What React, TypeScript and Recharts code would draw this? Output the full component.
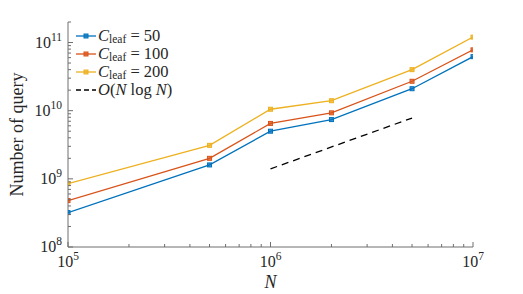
import { LineChart, Line, XAxis, YAxis, Legend, Label } from "recharts";

const nValues = [1e5, 5e5, 1e6, 2e6, 5e6, 1e7];
const leaf50 = [3.2e8, 1.6e9, 5.0e9, 7.4e9, 2.1e10, 6.2e10];
const leaf100 = [4.8e8, 2.0e9, 6.5e9, 9.3e9, 2.7e10, 7.8e10];
const leaf200 = [8.5e8, 3.1e9, 1.05e10, 1.4e10, 4.0e10, 1.2e11];
// reference slope, only drawn between 1e6 and 5e6
const nLogN = [null, null, 1.4e9, null, 7.8e9, null];

const leafSizes = [50, 100, 200];
const seriesOrder = ["leaf50", "leaf100", "leaf200", "ref"];

const xMajorTicks = [1e5, 1e6, 1e7];
const xMinorTicks = [
    2e5, 3e5, 4e5, 5e5, 6e5, 7e5, 8e5, 9e5,
    2e6, 3e6, 4e6, 5e6, 6e6, 7e6, 8e6, 9e6,
];
const yMajorTicks = [1e8, 1e9, 1e10, 1e11];
const yMinorTicks = [
    2e8, 3e8, 4e8, 5e8, 6e8, 7e8, 8e8, 9e8,
    2e9, 3e9, 4e9, 5e9, 6e9, 7e9, 8e9, 9e9,
    2e10, 3e10, 4e10, 5e10, 6e10, 7e10, 8e10, 9e10,
    2e11,
];

const xTicks = [...xMajorTicks, ...xMinorTicks].sort((a, b) => a - b);
const yTicks = [...yMajorTicks, ...yMinorTicks].sort((a, b) => a - b);

const rows = nValues.map((n, i) => ({
    n,
    leaf50: leaf50[i],
    leaf100: leaf100[i],
    leaf200: leaf200[i],
    ref: nLogN[i],
}));

const FONT = "'Liberation Serif', 'DejaVu Serif', serif";
const AXIS = "#6e6e6e";
const TEXT = "#262626";
const colors = { leaf50: "#0072BD", leaf100: "#D95319", leaf200: "#EDB120", ref: "#000000" };

const exponent = (v: number) => Math.round(Math.log10(v));

const PowerLabel = ({ x, y, v, anchor }: { x: number; y: number; v: number; anchor: "middle" | "end" }) => (
    <text x={x} y={y} textAnchor={anchor} fill={TEXT} fontFamily={FONT} fontSize={16}>
        <tspan>10</tspan>
        <tspan dy={-7} fontSize={11.5}>{exponent(v)}</tspan>
    </text>
);

const XTick = (props: any) => {
    const { x, y, payload, side } = props;
    const major = xMajorTicks.includes(payload.value);
    const len = major ? 5 : 3;
    const dir = side === "top" ? 1 : -1;
    return (
        <g>
            <line x1={x} y1={y} x2={x} y2={y + dir * len} stroke={AXIS} strokeWidth={1} />
            {side === "bottom" && major && <PowerLabel x={x} y={y + 20} v={payload.value} anchor="middle" />}
        </g>
    );
};

const YTick = (props: any) => {
    const { x, y, payload, side } = props;
    const major = yMajorTicks.includes(payload.value);
    const len = major ? 5 : 3;
    const dir = side === "left" ? 1 : -1;
    return (
        <g>
            <line x1={x} y1={y} x2={x + dir * len} y2={y} stroke={AXIS} strokeWidth={1} />
            {side === "left" && major && <PowerLabel x={x - 6} y={y + 5} v={payload.value} anchor="end" />}
        </g>
    );
};

const squareDot = (color: string) => (props: any) => {
    const { cx, cy, index, dataKey } = props;
    if (cx == null || cy == null) return <g key={`${dataKey}-${index}`} />;
    return (
        <rect key={`${dataKey}-${index}`} x={cx - 2} y={cy - 2} width={4} height={4}
            fill={color} fillOpacity={0.75} stroke={color} strokeWidth={1} />
    );
};

const legendText = (key: string) => {
    if (key === "ref") {
        return <span><i>O</i>(<i>N</i> log <i>N</i>)</span>;
    }
    const size = leafSizes[seriesOrder.indexOf(key)];
    return (
        <span>
            <i>C</i>
            <span style={{ fontSize: 11.5, position: "relative", top: 2, lineHeight: 1 }}>leaf</span>
            {` = ${size}`}
        </span>
    );
};

const LegendBox = (props: any) => {
    const entries = [...(props.payload ?? [])].sort(
        (a: any, b: any) => seriesOrder.indexOf(String(a.dataKey)) - seriesOrder.indexOf(String(b.dataKey))
    );
    return (
        <div style={{ fontFamily: FONT, fontSize: 16.5, color: TEXT, background: "#fff" }}>
            {entries.map((entry: any) => {
                const key = String(entry.dataKey);
                const dashed = key === "ref";
                return (
                    <div key={key} style={{ display: "flex", alignItems: "center", height: 18, lineHeight: "18px", whiteSpace: "pre" }}>
                        <svg width={22} height={18} style={{ marginRight: 1 }}>
                            <line x1={1} y1={9} x2={21} y2={9} stroke={entry.color}
                                strokeWidth={1.3} strokeDasharray={dashed ? "5 3" : undefined} />
                            {!dashed && (
                                <rect x={9} y={7} width={4} height={4} fill={entry.color}
                                    fillOpacity={0.75} stroke={entry.color} />
                            )}
                        </svg>
                        {legendText(key)}
                    </div>
                );
            })}
        </div>
    );
};

export default function App() {
    return (
        <div style={{ position: "absolute", left: 0, top: 0, background: "#fff" }}>
            <LineChart width={523} height={294} data={rows}
                margin={{ top: 22, right: 50, left: 0, bottom: 0 }}>
                <XAxis dataKey="n" type="number" scale="log" domain={[1e5, 1e7]} allowDataOverflow
                    ticks={xTicks} interval={0} height={47} tickSize={0} tickMargin={0}
                    tickLine={false} stroke={AXIS} tick={<XTick side="bottom" />}>
                    <Label value="N" position="insideBottom" offset={6}
                        style={{ fontFamily: FONT, fontStyle: "italic", fontSize: 18, fill: TEXT }} />
                </XAxis>
                <XAxis xAxisId="top" orientation="top" dataKey="n" type="number" scale="log"
                    domain={[1e5, 1e7]} allowDataOverflow ticks={xTicks} interval={0} height={0}
                    tickSize={0} tickMargin={0} tickLine={false} stroke={AXIS} tick={<XTick side="top" />} />
                <YAxis type="number" scale="log" domain={[1e8, 2e11]} allowDataOverflow
                    ticks={yTicks} interval={0} width={68} tickSize={0} tickMargin={0}
                    tickLine={false} stroke={AXIS} tick={<YTick side="left" />}>
                    <Label value="Number of query" angle={-90} position="insideLeft" offset={17}
                        style={{ fontFamily: FONT, fontSize: 18, fill: TEXT, textAnchor: "middle" }} />
                </YAxis>
                <YAxis yAxisId="right" orientation="right" type="number" scale="log"
                    domain={[1e8, 2e11]} allowDataOverflow ticks={yTicks} interval={0} width={0}
                    tickSize={0} tickMargin={0} tickLine={false} stroke={AXIS} tick={<YTick side="right" />} />
                <Legend layout="vertical" align="center" verticalAlign="middle" content={<LegendBox />}
                    wrapperStyle={{ left: 75, top: 27, width: "auto" }} />
                <Line dataKey="leaf50" name="leaf50" stroke={colors.leaf50} strokeWidth={1.3}
                    dot={squareDot(colors.leaf50)} isAnimationActive={false} />
                <Line dataKey="leaf100" name="leaf100" stroke={colors.leaf100} strokeWidth={1.3}
                    dot={squareDot(colors.leaf100)} isAnimationActive={false} />
                <Line dataKey="leaf200" name="leaf200" stroke={colors.leaf200} strokeWidth={1.3}
                    dot={squareDot(colors.leaf200)} isAnimationActive={false} />
                <Line dataKey="ref" name="ref" stroke={colors.ref} strokeWidth={1.3}
                    strokeDasharray="7 5" connectNulls dot={false} isAnimationActive={false} />
            </LineChart>
        </div>
    );
}
